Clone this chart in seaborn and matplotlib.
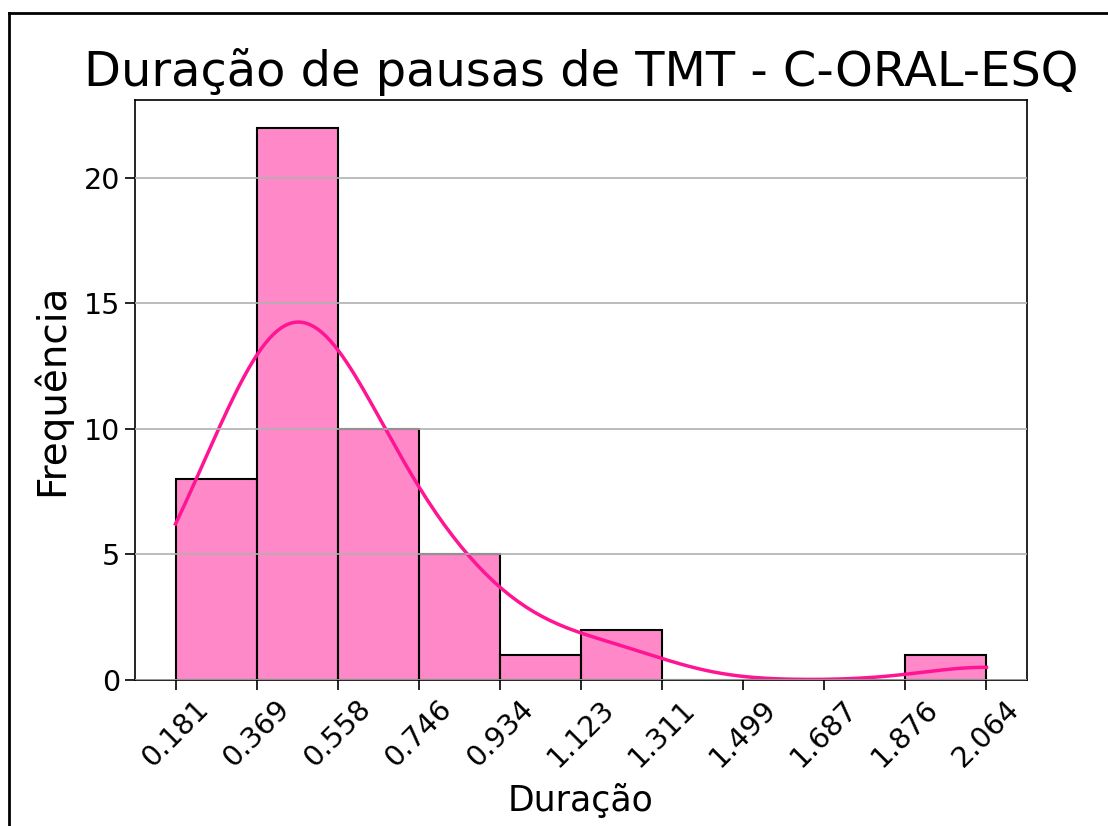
import numpy as np
import pandas as pd
import matplotlib
matplotlib.use("Agg")
import matplotlib.pyplot as plt
from matplotlib.lines import Line2D
import seaborn as sns

# Durations (s) estimated from the histogram / KDE in the reference
bin1 = [0.181, 0.184, 0.192, 0.207, 0.228, 0.256, 0.291, 0.333]
bin2 = [0.370, 0.375, 0.381, 0.387, 0.393, 0.400, 0.407, 0.414, 0.421, 0.429, 0.437,
        0.445, 0.454, 0.463, 0.472, 0.482, 0.492, 0.503, 0.514, 0.526, 0.539, 0.552]
bin3 = [0.566, 0.581, 0.597, 0.614, 0.632, 0.651, 0.671, 0.692, 0.714, 0.736]
bin4 = [0.776, 0.812, 0.849, 0.886, 0.920]
bin5 = [1.031]
bin6 = [1.158, 1.232]
bin10 = [2.064]
duracao = bin1 + bin2 + bin3 + bin4 + bin5 + bin6 + bin10

tick_labels = ["0.181", "0.369", "0.558", "0.746", "0.934", "1.123",
               "1.311", "1.499", "1.687", "1.876", "2.064"]

df = pd.DataFrame({"Duração": duracao})

fig = plt.figure(figsize=(11.08, 8.26), dpi=100)
ax = fig.add_axes([0.1218, 0.1768, 0.8051, 0.7022])

sns.histplot(data=df, x="Duração", bins=10, kde=True, color="deeppink",
             edgecolor="black", linewidth=1.5, ax=ax,
             line_kws={"linewidth": 2.5})

edges = np.histogram_bin_edges(df["Duração"], bins=10)
ax.set_xticks(edges)
ax.set_xticklabels(tick_labels, rotation=45, fontsize=20.5)
ax.tick_params(axis="y", labelsize=20.5)
ax.tick_params(axis="both", width=1.2, length=7)
ax.yaxis.grid(True, color="#b0b0b0", linewidth=1.2)
ax.set_axisbelow(False)
for s in ax.spines.values():
    s.set_linewidth(1.2)

ax.set_title("Duração de pausas de TMT - C-ORAL-ESQ", fontsize=34.5, pad=10)
ax.set_xlabel("Duração", fontsize=25, labelpad=8)
ax.set_ylabel("Frequência", fontsize=28, labelpad=9)

# screenshot frame
fig.add_artist(Line2D([9 / 1108, 9 / 1108], [0, 1 - 13 / 826], transform=fig.transFigure,
                      color="black", linewidth=2))
fig.add_artist(Line2D([9 / 1108, 1], [1 - 13 / 826, 1 - 13 / 826], transform=fig.transFigure,
                      color="black", linewidth=2))

fig.savefig("out.png", dpi=100)
